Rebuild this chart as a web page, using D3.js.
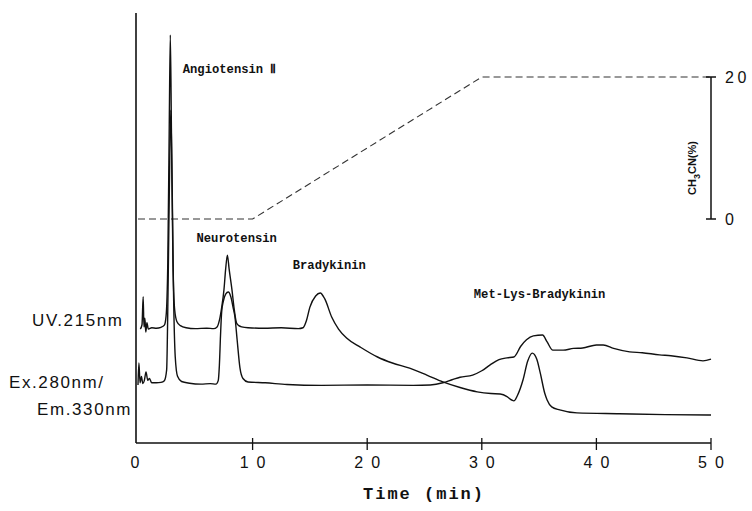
<!DOCTYPE html>
<html>
<head>
<meta charset="utf-8">
<script src="https://cdn.jsdelivr.net/npm/d3@7"></script>
<style>
  body { margin: 0; background: #fff; }
  svg { display: block; }
</style>
</head>
<body>
<svg id="svg" width="752" height="511"></svg>
<script>
// time (min) vs detector response (arbitrary units, 0-100 full scale)
const uvTrace = [
  [0.2, 26.5], [0.35, 27.5], [0.45, 34.0], [0.52, 27.0], [0.6, 29.0], [0.68, 25.8],
  [0.78, 28.0], [0.9, 26.5], [1.2, 26.8], [1.6, 26.7], [2.0, 26.9], [2.3, 27.4],
  [2.45, 29.5], [2.6, 42], [2.72, 72], [2.82, 94.9], [2.92, 72], [3.05, 42],
  [3.2, 31], [3.4, 28.2], [3.7, 27.3], [4.2, 26.8], [5.0, 26.6], [6.0, 26.7],
  [6.6, 26.6], [6.9, 27.0], [7.1, 28.5], [7.3, 31.5], [7.5, 35.6], [7.65, 40.5],
  [7.8, 43.7], [7.95, 40.5], [8.2, 35.6], [8.4, 31.0], [8.6, 27.9], [8.8, 27.3],
  [9.05, 27.0], [9.6, 26.8], [11.0, 26.7], [12.5, 26.8], [14.0, 26.6], [14.4, 26.8],
  [14.7, 28.5], [15.0, 31.6], [15.5, 34.2], [15.9, 34.9], [16.3, 33.5], [16.9, 29.3],
  [17.5, 26.5], [18.2, 24.4], [19.4, 22.3], [20.9, 20.0], [22.2, 18.6], [23.7, 17.4],
  [25.2, 15.8], [26.6, 14.2], [28.1, 12.9], [29.6, 11.9], [30.8, 11.5], [31.6, 11.4],
  [32.2, 10.8], [32.6, 10.0], [32.8, 9.8], [33.1, 11.0], [33.6, 14.7], [34.0, 19.0],
  [34.4, 20.9], [34.8, 19.5], [35.1, 16.3], [35.5, 11.5], [35.7, 10.0], [36.1, 8.4],
  [36.8, 7.7], [38.3, 7.0], [42.0, 6.8], [46.0, 6.6], [50.0, 6.5]
];

const flTrace = [
  [0.0, 13.5], [0.08, 18.6], [0.18, 14.0], [0.3, 15.5], [0.42, 13.8], [0.55, 14.5],
  [0.7, 16.5], [0.85, 14.6], [1.0, 15.0], [1.2, 14.0], [1.6, 14.0], [2.0, 14.1],
  [2.3, 14.5], [2.5, 17], [2.62, 35], [2.74, 60], [2.86, 77.4], [2.98, 60],
  [3.1, 35], [3.25, 20], [3.45, 15.5], [3.8, 14.3], [4.5, 13.9], [5.5, 13.7],
  [6.3, 13.8], [6.8, 13.7], [7.0, 14.5], [7.1, 18.0], [7.2, 25.0], [7.3, 30.5],
  [7.45, 33.0], [7.65, 34.6], [7.88, 35.1], [8.1, 34.0], [8.3, 31.5], [8.46, 29.3],
  [8.65, 24.0], [8.9, 17.4], [9.16, 15.0], [9.6, 14.2], [11.1, 14.0], [13.0, 13.6],
  [16.0, 13.4], [20.0, 13.5], [24.0, 13.4], [25.5, 13.5], [26.6, 14.0], [27.4, 14.7],
  [28.1, 15.3], [29.2, 15.8], [30.0, 16.8], [30.7, 18.1], [31.5, 19.4], [32.2, 19.8],
  [32.8, 20.0], [33.4, 22.5], [33.9, 24.0], [34.5, 24.9], [35.3, 25.1], [35.7, 23.5],
  [36.2, 21.6], [37.1, 21.6], [38.0, 22.0], [38.8, 22.1], [40.0, 22.8], [40.6, 22.8],
  [41.5, 22.0], [42.9, 21.2], [44.0, 21.0], [45.5, 20.5], [46.5, 20.3], [47.9, 19.8],
  [49.3, 19.1], [50.0, 19.5]
];

// CH3CN gradient program (min, %)
const gradient = [[0, 0], [10, 0], [30, 20], [50, 20]];

const timeTicks = [0, 10, 20, 30, 40, 50];
const gradTicks = [0, 20];

const peakLabels = [
  { name: "Angiotensin Ⅱ", t: 3.9, v: 86.0 },
  { name: "Neurotensin", t: 5.1, v: 46.8 },
  { name: "Bradykinin", t: 13.5, v: 40.4 },
  { name: "Met-Lys-Bradykinin", t: 29.3, v: 33.8 }
];

const x = d3.scaleLinear().domain([0, 50]).range([138, 711]);
const y = d3.scaleLinear().domain([0, 100]).range([443, 13]);
const yg = d3.scaleLinear().domain([0, 20]).range([219, 77]);

const svg = d3.select("#svg");
const ink = "#111";

const line = d3.line()
  .curve(d3.curveMonotoneX)
  .x(d => x(d[0]))
  .y(d => y(d[1]));

// left axis line
svg.append("line")
  .attr("x1", 136).attr("x2", 136)
  .attr("y1", y(0)).attr("y2", y(100))
  .attr("stroke", ink).attr("stroke-width", 1.6);

// time axis
const xAxis = svg.append("g");
xAxis.append("line")
  .attr("x1", 136).attr("x2", x(50))
  .attr("y1", y(0)).attr("y2", y(0))
  .attr("stroke", ink).attr("stroke-width", 1.6);
xAxis.selectAll(".tick")
  .data(timeTicks.filter(d => d > 0))
  .join("line")
  .attr("x1", d => x(d)).attr("x2", d => x(d))
  .attr("y1", y(0) - 5).attr("y2", y(0) + 7)
  .attr("stroke", ink).attr("stroke-width", 1.3);
xAxis.selectAll("text")
  .data(timeTicks)
  .join("text")
  .attr("x", d => x(d) + (d === 0 ? 1 : 4))
  .attr("y", y(0) + 25)
  .attr("text-anchor", "middle")
  .attr("font-family", "Liberation Sans, Arial, sans-serif")
  .attr("font-size", 16)
  .attr("letter-spacing", 8)
  .attr("fill", ink)
  .text(d => d);

svg.append("text")
  .attr("x", 424).attr("y", 499)
  .attr("text-anchor", "middle")
  .attr("font-family", "Liberation Mono, Courier New, monospace")
  .attr("font-weight", "bold")
  .attr("font-size", 17)
  .attr("letter-spacing", 2)
  .attr("fill", ink)
  .text("Time (min)");

// gradient (dashed) and its axis
svg.append("path")
  .datum(gradient)
  .attr("d", d3.line().x(d => x(d[0])).y(d => yg(d[1])))
  .attr("fill", "none")
  .attr("stroke", "#333")
  .attr("stroke-width", 1.1)
  .attr("stroke-dasharray", "7,4");

const gAxis = svg.append("g");
gAxis.append("line")
  .attr("x1", x(50)).attr("x2", x(50))
  .attr("y1", yg(0)).attr("y2", yg(20))
  .attr("stroke", ink).attr("stroke-width", 1.5);
gAxis.selectAll(".gt")
  .data(gradTicks)
  .join("line")
  .attr("x1", x(50) - 5).attr("x2", x(50) + 5)
  .attr("y1", d => yg(d)).attr("y2", d => yg(d))
  .attr("stroke", ink).attr("stroke-width", 1.5);
gAxis.selectAll("text")
  .data(gradTicks)
  .join("text")
  .attr("x", x(50) + 14)
  .attr("y", d => yg(d) + 6)
  .attr("font-family", "Liberation Sans, Arial, sans-serif")
  .attr("font-size", 16)
  .attr("letter-spacing", 3.5)
  .attr("fill", ink)
  .text(d => d);

const gLabel = svg.append("text")
  .attr("transform", `translate(${x(50) - 15},${(yg(0) + yg(20)) / 2 + 20}) rotate(-90)`)
  .attr("text-anchor", "middle")
  .attr("font-family", "Liberation Sans Narrow, Liberation Sans, Arial, sans-serif")
  .attr("font-size", 11)
  .attr("font-weight", "bold")
  .attr("fill", ink);
gLabel.append("tspan").text("CH");
gLabel.append("tspan").attr("font-size", 9).attr("dy", 4).text("3");
gLabel.append("tspan").attr("dy", -4).text("CN(%)");

// chromatogram traces
svg.selectAll(".trace")
  .data([uvTrace, flTrace])
  .join("path")
  .attr("class", "trace")
  .attr("d", line)
  .attr("fill", "none")
  .attr("stroke", ink)
  .attr("stroke-width", 1.4)
  .attr("stroke-linejoin", "round");

// peak names
svg.selectAll(".peak")
  .data(peakLabels)
  .join("text")
  .attr("class", "peak")
  .attr("x", d => x(d.t))
  .attr("y", d => y(d.v))
  .attr("font-family", "Liberation Mono, DejaVu Sans Mono, monospace")
  .attr("font-size", 12.2)
  .attr("font-weight", "bold")
  .attr("fill", ink)
  .text(d => d.name);

// detector labels
const detLabels = [
  { text: "UV.215nm", x: 32, y: 326 },
  { text: "Ex.280nm/", x: 9, y: 388 },
  { text: "Em.330nm", x: 37, y: 415 }
];
svg.selectAll(".det")
  .data(detLabels)
  .join("text")
  .attr("class", "det")
  .attr("x", d => d.x)
  .attr("y", d => d.y)
  .attr("font-family", "Liberation Sans, Arial, sans-serif")
  .attr("font-size", 17)
  .attr("letter-spacing", 1.6)
  .attr("fill", ink)
  .text(d => d.text);
</script>
</body>
</html>
